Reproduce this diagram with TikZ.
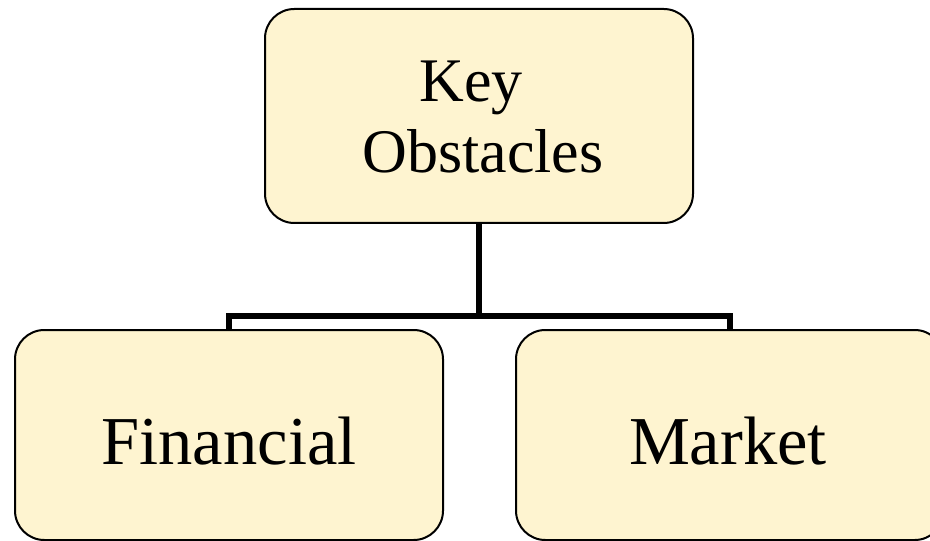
\documentclass[tikz,border=0pt]{standalone}
\usepackage{fontspec}
\setmainfont{Liberation Serif}
\begin{document}
\begin{tikzpicture}[x=0.75pt,y=-0.75pt,
  box/.style={draw=black,line width=1.5pt,fill=boxfill,rounded corners=22pt,
    minimum width=321pt,inner sep=0pt},
  toptext/.style={anchor=base,inner sep=0pt,font=\fontsize{46.5}{53}\selectfont},
  bigtext/.style={anchor=base,inner sep=0pt,font=\fontsize{51.4}{59}\selectfont},
  conn/.style={draw=black,line width=4.5pt}]
\definecolor{boxfill}{HTML}{FEF4D0}
\useasboundingbox (0,0) rectangle (930,541);
\clip (0,0) rectangle (930,541);

% boxes
\node[box,minimum height=160.5pt] (top) at (479,116) {};
\node[box,minimum height=157.5pt] (fin) at (229,435) {};
\node[box,minimum height=157.5pt] (mkt) at (730,435) {};

% labels
\node[toptext] (keyl) at (471,102) {Key};
\node[toptext] (obsl) at (483,173) {Obstacles};
\node[bigtext] (finl) at (229,464) {Financial};
\node[bigtext] (mktl) at (728,464) {Market};

% connectors
\coordinate (bus) at (479,316);
\draw[conn] (top.south) -- (bus);
\draw[conn] (fin.north) |- (bus) -| (mkt.north);
\end{tikzpicture}
\end{document}
